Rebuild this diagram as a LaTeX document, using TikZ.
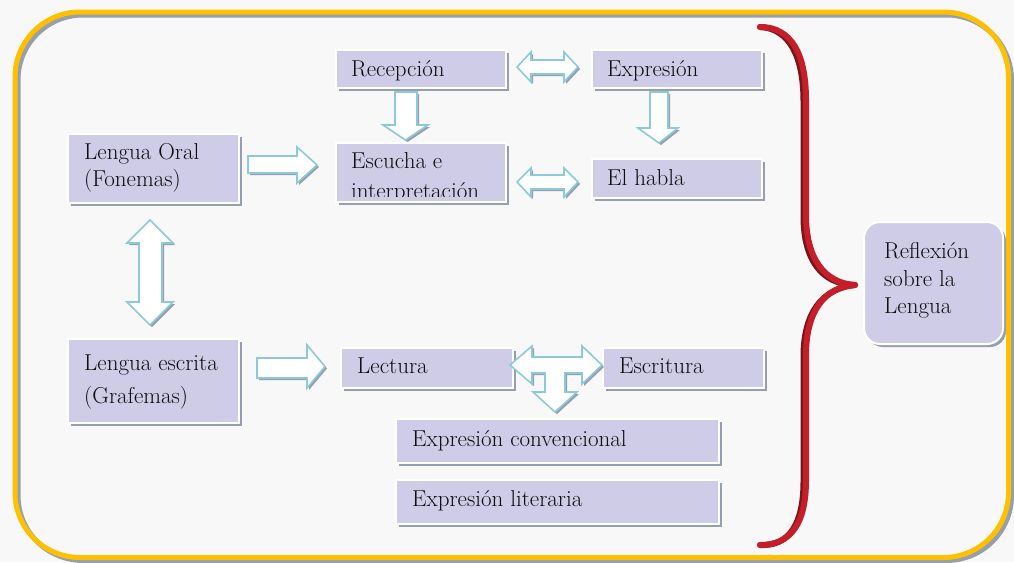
\documentclass[tikz,border=0pt]{standalone}
\usetikzlibrary{shadows}
\definecolor{bgc}{HTML}{F8F8F8}
\definecolor{boxfill}{HTML}{CFCCE7}
\definecolor{shadowc}{HTML}{959FAE}
\definecolor{arrowblue}{HTML}{8CCAD9}
\definecolor{frameyel}{HTML}{FFC000}
\definecolor{bracered}{HTML}{C41E2A}
\definecolor{bracedark}{HTML}{7A1518}
\definecolor{textc}{HTML}{0D0D0D}
\begin{document}
\begin{tikzpicture}[x=1pt,y=-1pt,
  box/.style={fill=boxfill, draw=white, line width=2pt, inner sep=0pt, anchor=north west,
    drop shadow={shadow xshift=3pt, shadow yshift=-3pt, fill=shadowc, opacity=1}},
  txt/.style={anchor=base west, inner sep=0pt, text=textc, font=\fontsize{23}{28}\selectfont},
  barrow/.style={fill=white, draw=arrowblue, line width=1.6pt, line join=miter,
    drop shadow={shadow xshift=2pt, shadow yshift=-2pt, fill=shadowc, opacity=1}},
  bracepath/.style={line width=6pt, line cap=round, line join=round}]
\useasboundingbox (0,0) rectangle (1014,562);
\fill[bgc] (0,0) rectangle (1014,562);
% frame
\draw[shadowc, line width=5pt, rounded corners=65pt] (18,15) rectangle (1011.5,560.5);
\draw[frameyel, line width=5pt, rounded corners=65pt] (15,12) rectangle (1008.5,557.5);

% boxes
\node[box, minimum width=170pt, minimum height=38pt] (rec) at (335,49) {};
\node[box, minimum width=170pt, minimum height=38pt] (exp) at (591,49) {};
\node[box, minimum width=170pt, minimum height=59pt] (esc) at (335,142) {};
\node[box, minimum width=170pt, minimum height=39pt] (hab) at (591,158) {};
\node[box, minimum width=171pt, minimum height=69pt] (oral) at (67,133) {};
\node[box, minimum width=171pt, minimum height=84pt] (escr) at (67,338) {};
\node[box, minimum width=172pt, minimum height=40pt] (lec) at (340,347) {};
\node[box, minimum width=161pt, minimum height=40pt] (esct) at (602,347) {};
\node[box, minimum width=323pt, minimum height=44pt] (conv) at (395,418) {};
\node[box, minimum width=323pt, minimum height=44pt] (lit) at (395,479) {};
\node[box, minimum width=139pt, minimum height=122pt, rounded corners=16pt] (refl) at (863,221) {};

% texts
\node[txt] (trec) at (351,76) {Recepción};
\node[txt] (texp) at (607,76) {Expresión};
\begin{scope}
\clip (335,142) rectangle (505,196);
\node[txt] (tesc1) at (351,168) {Escucha e};
\node[txt] (tesc2) at (351,198) {interpretación};
\end{scope}
\node[txt] (thab) at (607,185) {El habla};
\node[txt] (toral1) at (84,159) {Lengua Oral};
\node[txt] (toral2) at (84,186) {(Fonemas)};
\node[txt] (tescr1) at (84,370) {Lengua escrita};
\node[txt] (tescr2) at (84,403) {(Grafemas)};
\node[txt] (tlec) at (357,373) {Lectura};
\node[txt] (tesct) at (619,373) {Escritura};
\node[txt] (tconv) at (412,446) {Expresión convencional};
\node[txt] (tlit) at (412,506) {Expresión literaria};
\node[txt] (trefl1) at (884,258) {Reflexión};
\node[txt] (trefl2) at (884,286) {sobre la};
\node[txt] (trefl3) at (884,313) {Lengua};

% block arrows
% Recepcion <-> Expresion
\draw[barrow] (517,67) -- (531,52) -- (531,60) -- (564,60) -- (564,52) -- (578,67)
  -- (564,82) -- (564,74) -- (531,74) -- (531,82) -- cycle;
% Escucha <-> El habla
\draw[barrow] (517,182) -- (531,168) -- (531,175) -- (564,175) -- (564,168) -- (578,182)
  -- (564,197) -- (564,189) -- (531,189) -- (531,197) -- cycle;
% Recepcion -> Escucha
\draw[barrow] (395,92) -- (417,92) -- (417,125) -- (428,125) -- (405.5,140) -- (383,125) -- (395,125) -- cycle;
% Expresion -> El habla
\draw[barrow] (650,92) -- (668,92) -- (668,128) -- (678,128) -- (659,143) -- (638,128) -- (650,128) -- cycle;
% Lengua Oral -> Escucha
\draw[barrow] (248,156) -- (297,156) -- (297,147) -- (317,165) -- (297,183) -- (297,173) -- (248,173) -- cycle;
% Lengua escrita -> Lectura
\draw[barrow] (257,358) -- (307,358) -- (307,345) -- (325,366.5) -- (307,388) -- (307,378) -- (257,378) -- cycle;
% Oral <-> escrita
\draw[barrow] (150,220) -- (173,243) -- (162,243) -- (162,302) -- (173,302) -- (150,325)
  -- (127,302) -- (139,302) -- (139,243) -- (127,243) -- cycle;
% T arrow Lectura <-> Escritura, down to Expresion
\draw[barrow] (510,365) -- (532,346) -- (532,357) -- (582,357) -- (582,346) -- (602,365)
  -- (582,384) -- (582,373) -- (565,373) -- (565,392) -- (577,392) -- (555,412)
  -- (533,392) -- (545,392) -- (545,373) -- (532,373) -- (532,384) -- cycle;

% brace
\coordinate (btop) at (760,27);
\coordinate (btip) at (855,285);
\coordinate (bbot) at (760,545);
\begin{scope}[shift={(-2.5,1.5)}]
\draw[bracedark, bracepath] (btop) .. controls (792,27) and (806,55) .. (806,100) -- (806,215)
  .. controls (806,258) and (824,283) .. (btip)
  .. controls (824,287) and (806,312) .. (806,355) -- (806,480)
  .. controls (806,522) and (792,545) .. (bbot);
\end{scope}
\draw[bracered, bracepath] (btop) .. controls (792,27) and (806,55) .. (806,100) -- (806,215)
  .. controls (806,258) and (824,283) .. (btip)
  .. controls (824,287) and (806,312) .. (806,355) -- (806,480)
  .. controls (806,522) and (792,545) .. (bbot);
\end{tikzpicture}
\end{document}
